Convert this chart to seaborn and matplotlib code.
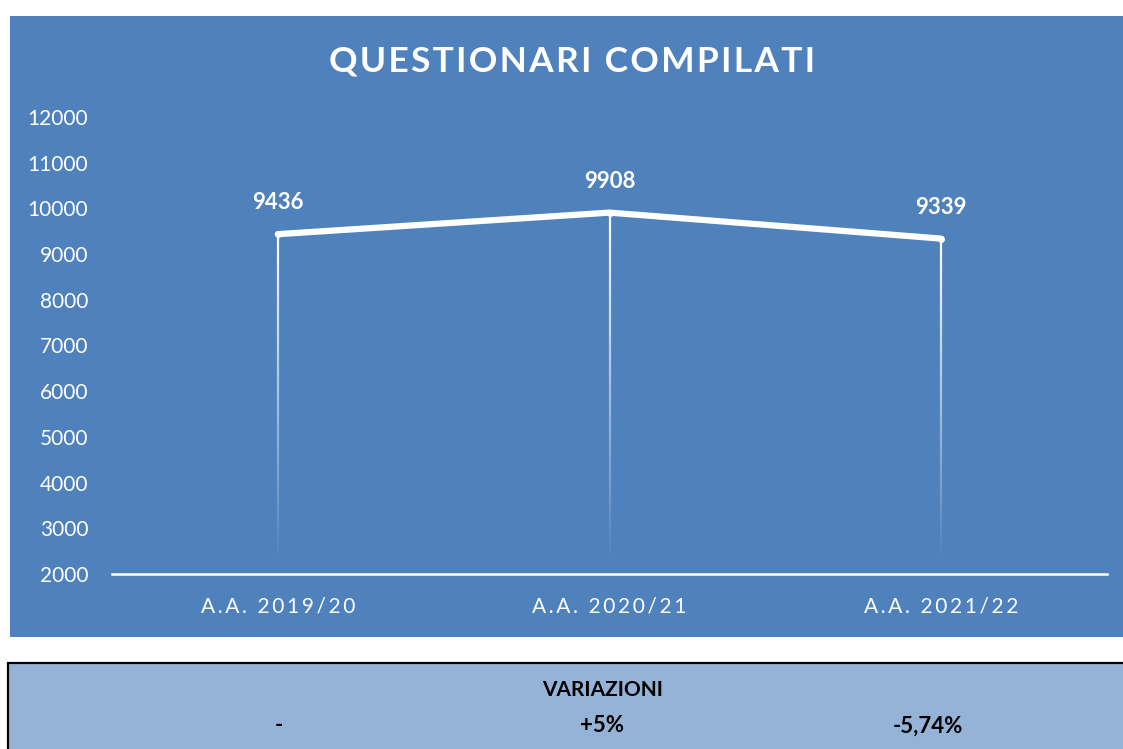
import numpy as np
import pandas as pd
import matplotlib
matplotlib.use("Agg")
import matplotlib.pyplot as plt
import seaborn as sns
from matplotlib.collections import LineCollection
from matplotlib.patches import Rectangle

categories = ["A.A. 2019/20", "A.A. 2020/21", "A.A. 2021/22"]
values = [9436, 9908, 9339]
variations = ["-", "+5%", "-5,74%"]
yticks = [2000, 3000, 4000, 5000, 6000, 7000, 8000, 9000, 10000, 11000, 12000]
title = "QUESTIONARI COMPILATI"
table_header = "VARIAZIONI"

BLUE = "#4F81BD"
LIGHT = "#95B3D7"

sns.set_theme(style="white")
plt.rcParams["font.family"] = ["Lato", "DejaVu Sans"]


def spaced(s, sep="\u200a"):
    return sep.join(list(s))


fig = plt.figure(figsize=(11.23, 7.49), dpi=100)
fig.patch.set_facecolor("white")

# chart panel background
fig.patches.append(Rectangle((10/1123, 1-637/749), 1-10/1123, (637-16)/749,
                             transform=fig.transFigure, facecolor=BLUE,
                             edgecolor="none", zorder=-10))
# table background
fig.patches.append(Rectangle((8/1123, -0.01), 1.0, 0.01+1-663/749,
                             transform=fig.transFigure, facecolor=LIGHT,
                             edgecolor="black", linewidth=1.6, zorder=-10))

ax = fig.add_axes([112/1123, 1-574/749, (1107-112)/1123, (574-117)/749])
ax.set_facecolor("none")
ax.set_zorder(1)

df = pd.DataFrame({"cat": categories, "val": values})
xpos = np.arange(len(categories))

# fading drop lines
for x, v in zip(xpos, values):
    n = 120
    ys = np.linspace(v, 2000, n + 1)
    segs = [[(x, ys[i]), (x, ys[i+1])] for i in range(n)]
    frac = np.linspace(0, 1, n)
    alphas = np.clip(1 - frac * 1.03, 0, 1)
    cols = [(1, 1, 1, a) for a in alphas]
    ax.add_collection(LineCollection(segs, colors=cols, linewidths=1.6, zorder=2))

sns.lineplot(data=df, x=xpos, y="val", ax=ax, color="white", linewidth=4.5,
             marker="o", markersize=5, markeredgewidth=0, sort=False, zorder=3)

for x, v in zip(xpos, values):
    ax.annotate(f"{v}", (x, v), xytext=(0, 15), textcoords="offset points",
                ha="center", va="bottom", color="white", fontsize=16,
                fontweight="bold")

ax.set_xlim(-0.5, 2.5)
ax.set_ylim(2000, 12000)
ax.set_yticks(yticks)
ax.set_yticklabels([str(t) for t in yticks], color="white", fontsize=15)
ax.set_xticks(xpos)
ax.set_xticklabels([spaced(c, "\u2009") for c in categories],
                   color="white", fontsize=15)
ax.set_xlabel("")
ax.set_ylabel("")
for s in ["left", "right", "top"]:
    ax.spines[s].set_visible(False)
ax.spines["bottom"].set_color("white")
ax.spines["bottom"].set_linewidth(1.8)
ax.tick_params(axis="y", length=0, pad=17)
ax.tick_params(axis="x", length=3, width=1.2, color="white", pad=13, direction="out")
ax.grid(False)

fig.text(572/1123, 1-62/749, spaced(title, "\u200a"), ha="center", va="center",
         color="white", fontsize=25.5, fontweight="bold")

fig.text(603/1123, 1-690/749, table_header, ha="center", va="center",
         color="black", fontsize=15, fontweight="bold")
for xp, t in zip([279, 602, 928], variations):
    fig.text(xp/1123, 1-726/749, t, ha="center", va="center", color="black",
             fontsize=16, fontweight="bold")

fig.savefig("out.png", dpi=100, facecolor="white")
